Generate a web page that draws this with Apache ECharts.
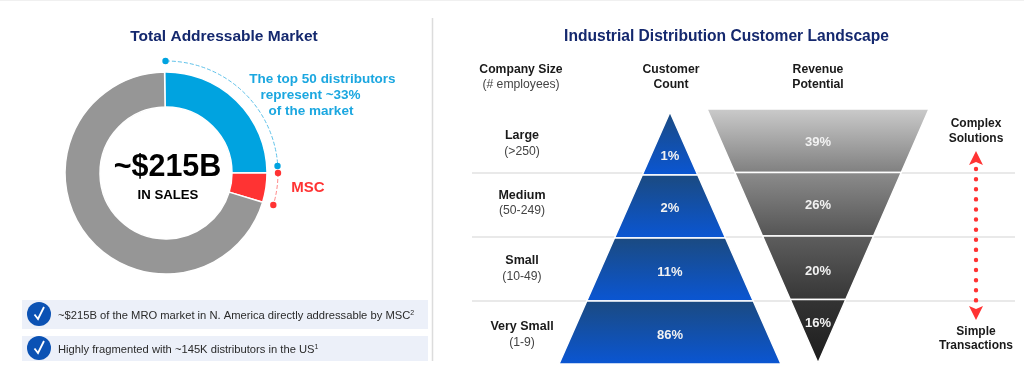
<!DOCTYPE html>
<html><head><meta charset="utf-8">
<style>html,body{margin:0;padding:0;background:#fff}#c{width:1024px;height:367px}</style>
<script src="https://cdn.jsdelivr.net/npm/echarts@6/dist/echarts.min.js"></script>
</head><body><div id="c"></div>
<script>
// ---- data ----
const marketNames = ['Top 50 distributors', 'MSC', 'Other distributors'];
const marketShares = [25.2, 4.7, 70.1];
const sizeNames = ['Large', 'Medium', 'Small', 'Very Small'];
const sizeRanges = ['(>250)', '(50-249)', '(10-49)', '(1-9)'];
const customerCount = [1, 2, 11, 86];
const revenuePotential = [39, 26, 20, 16];
const pyramidLevels = [25, 50, 75, 100];   // schematic width of each band
const funnelLevels = [100, 75, 50, 25];
const bullets = ['~$215B of the MRO market in N. America directly addressable by MSC', 'Highly fragmented with ~145K distributors in the US'];
const bulletNotes = ['2', '1'];

// ---- style ----
const F = '"Liberation Sans", Arial, sans-serif';
const NAVY = '#14286e', CYAN = '#1ba7e0', RED = '#ff3333', INK = '#1a1a1a';
const grad = (a, b) => ({type:'linear', x:0, y:0, x2:0, y2:1, colorStops:[{offset:0,color:a},{offset:1,color:b}]});
const blueBand = grad('#1b4a80', '#0a56d4');
const grayBands = [grad('#cbcbcb','#7f7f7f'), grad('#8c8c8c','#545454'), grad('#5e5e5e','#363636'), grad('#343434','#1c1c1c')];
const labelShiftL = [13, 2, 3, 3];
const labelShiftR = [2, 1, 4, -8];
const funnelLabel = {show:true, position:'inside', color:'#f2f2f2', fontFamily:F, fontWeight:'bold', fontSize:13,
  formatter: p => p.data.share + '%'};

const text = (x, y, t, fs, color, weight, align) => ({type:'text', x, y, z:20,
  style:{text:t, fontFamily:F, fontSize:fs, fill:color, fontWeight:weight||'normal', align:align||'center', verticalAlign:'middle'}});
const dot = (x, y, c) => ({type:'circle', z:15, shape:{cx:x, cy:y, r:3.2}, style:{fill:c}});
const arc = (a0, a1, c) => ({type:'arc', z:14, shape:{cx:166, cy:173, r:112, startAngle:a0*Math.PI/180, endAngle:a1*Math.PI/180, clockwise:true},
  style:{stroke:c, fill:null, lineWidth:1, lineDash:[4,2]}});
const bullet = (y0, y1, cy, i) => [
    {type:'rect', z:5, shape:{x:22, y:y0, width:406, height:y1-y0}, style:{fill:'#ecf0f9'}},
    {type:'circle', z:6, shape:{cx:39, cy:cy, r:12}, style:{fill:'#0b52b4'}},
    {type:'polyline', z:7, shape:{points:[[34.5,cy+0.5],[38,cy+5],[44,cy-7]]}, style:{stroke:'#fff', lineWidth:1.8, fill:null}},
    {type:'text', x:58, y:cy+2, z:8, style:{
      text:'{m|'+bullets[i]+'}{s|'+bulletNotes[i]+'}', verticalAlign:'middle', align:'left',
      rich:{m:{fontFamily:F, fontSize:11.2, fill:'#2a2a2a', color:'#2a2a2a'},
            s:{fontFamily:F, fontSize:7, fill:'#2a2a2a', color:'#2a2a2a', verticalAlign:'top', padding:[0,0,6,0]}}}}
];
// per-row vertical nudge of the size labels: a thin spacer line above or below the two-line block
const rowSpacerTop = [6, 0, 0, 4], rowSpacerBottom = [0, 3, 0, 0];
const rowRich = {
  a:{fontFamily:F, fontSize:12.5, fontWeight:'bold', color:INK, lineHeight:15.5},
  b:{fontFamily:F, fontSize:12.2, color:'#444', lineHeight:15.5}
};
sizeNames.forEach((n, i) => {
  rowRich['t'+i] = {fontSize:1, lineHeight:rowSpacerTop[i]};
  rowRich['u'+i] = {fontSize:1, lineHeight:rowSpacerBottom[i]};
});
const rowLabel = (v, i) => (rowSpacerTop[i] ? '{t'+i+'|\u00a0}\n' : '') + '{a|'+v+'}\n{b|'+sizeRanges[i]+'}' + (rowSpacerBottom[i] ? '\n{u'+i+'|\u00a0}' : '');

const option = {
  animation:false,
  backgroundColor:'#fff',
  title:[
    {text:'Total Addressable Market', left:219, top:24, textAlign:'center', textStyle:{fontFamily:F, fontSize:15.5, fontWeight:'bold', color:NAVY}},
    {text:'Industrial Distribution Customer Landscape', left:721.5, top:24, textAlign:'center', textStyle:{fontFamily:F, fontSize:15.6, fontWeight:'bold', color:NAVY}}
  ],
  grid:{left:472, top:108.7, width:543, height:256, containLabel:false},
  xAxis:{type:'value', show:false},
  yAxis:{type:'category', inverse:true, data:sizeNames, axisLine:{show:false}, axisTick:{show:false},
    splitLine:{show:true, showMinLine:false, showMaxLine:false, lineStyle:{color:'#e2e2e2', width:1.5}},
    axisLabel:{inside:true, margin:50, align:'center', lineHeight:15.5, fontFamily:F,
      formatter:rowLabel, rich:rowRich}},
  series:[
    {type:'pie', name:'Total Addressable Market', center:[166,173], radius:[66,101], startAngle:90.8, clockwise:true,
     label:{show:false}, labelLine:{show:false}, silent:true, z:3,
     itemStyle:{borderColor:'#fff', borderWidth:1.5},
     data:marketNames.map((n,i)=>({name:n, value:marketShares[i], itemStyle:{color:['#00a3e0',RED,'#969696'][i]}}))},
    {type:'funnel', name:'Customer Count', left:559, top:112, width:222, height:252, sort:'ascending', funnelAlign:'center',
     min:0, max:100, minSize:'0%', maxSize:'100%', gap:0, silent:true, z:3,
     label:funnelLabel, labelLine:{show:false}, labelLayout:p=>({dy:labelShiftL[p.dataIndex]}),
     itemStyle:{borderColor:'#fff', borderWidth:1.5},
     data:sizeNames.map((n,i)=>({name:n, value:pyramidLevels[i], share:customerCount[i], itemStyle:{color:blueBand}}))},
    {type:'funnel', name:'Revenue Potential', left:707, top:109, width:222, height:254, sort:'descending', funnelAlign:'center',
     min:0, max:100, minSize:'0%', maxSize:'100%', gap:0, silent:true, z:3,
     label:funnelLabel, labelLine:{show:false}, labelLayout:p=>({dy:labelShiftR[p.dataIndex]}),
     itemStyle:{borderColor:'#fff', borderWidth:1.5},
     data:sizeNames.map((n,i)=>({name:n, value:funnelLevels[i], share:revenuePotential[i], itemStyle:{color:grayBands[i]}}))}
  ],
  graphic:[
    {type:'line', shape:{x1:0,y1:0.5,x2:1024,y2:0.5}, style:{stroke:'#f0f0f0', lineWidth:1}},
    {type:'line', shape:{x1:432.5,y1:18,x2:432.5,y2:361}, style:{stroke:'#dcdcdc', lineWidth:1.5}},
    arc(-90,-3.6,'#5fc2ea'), dot(165.5,61,'#00a3e0'), dot(277.5,166,'#00a3e0'),
    arc(0,16.5,'#ff8a8a'), dot(278,173,RED), dot(273.3,205,RED),
    text(322.5,79,'The top 50 distributors',13.5,CYAN,'bold'),
    text(310.5,95,'represent ~33%',13.5,CYAN,'bold'),
    text(311,111,'of the market',13.5,CYAN,'bold'),
    text(308,188,'MSC',15,RED,'bold'),
    text(167.5,168,'~$215B',30.5,'#000','bold'),
    text(168,195,'IN SALES',13.2,'#000','bold'),
    ...bullet(300,329,314,0), ...bullet(336,361,348,1),
    text(521,70,'Company Size',12.2,INK,'bold'),
    text(521,85,'(# employees)',12.2,'#444'),
    text(671,70,'Customer',12.2,INK,'bold'),
    text(671,85,'Count',12.2,INK,'bold'),
    text(818,70,'Revenue',12.2,INK,'bold'),
    text(818,85,'Potential',12.2,INK,'bold'),
    text(976,124,'Complex',12,INK,'bold'),
    text(976,139,'Solutions',12,INK,'bold'),
    text(976,332,'Simple',12,INK,'bold'),
    text(976,346,'Transactions',12,INK,'bold'),
    {type:'line', z:12, shape:{x1:976,y1:169,x2:976,y2:301}, style:{stroke:RED, lineWidth:4.4, lineCap:'round', lineDash:[0.1,10]}},
    {type:'polygon', z:12, shape:{points:[[976,151],[983,165],[976,162],[969,165]]}, style:{fill:RED}},
    {type:'polygon', z:12, shape:{points:[[976,320],[983,306],[976,309],[969,306]]}, style:{fill:RED}}
  ]
};
const chart = echarts.init(document.getElementById('c'), null, {renderer:'canvas'});
chart.setOption(option);
</script></body></html>
